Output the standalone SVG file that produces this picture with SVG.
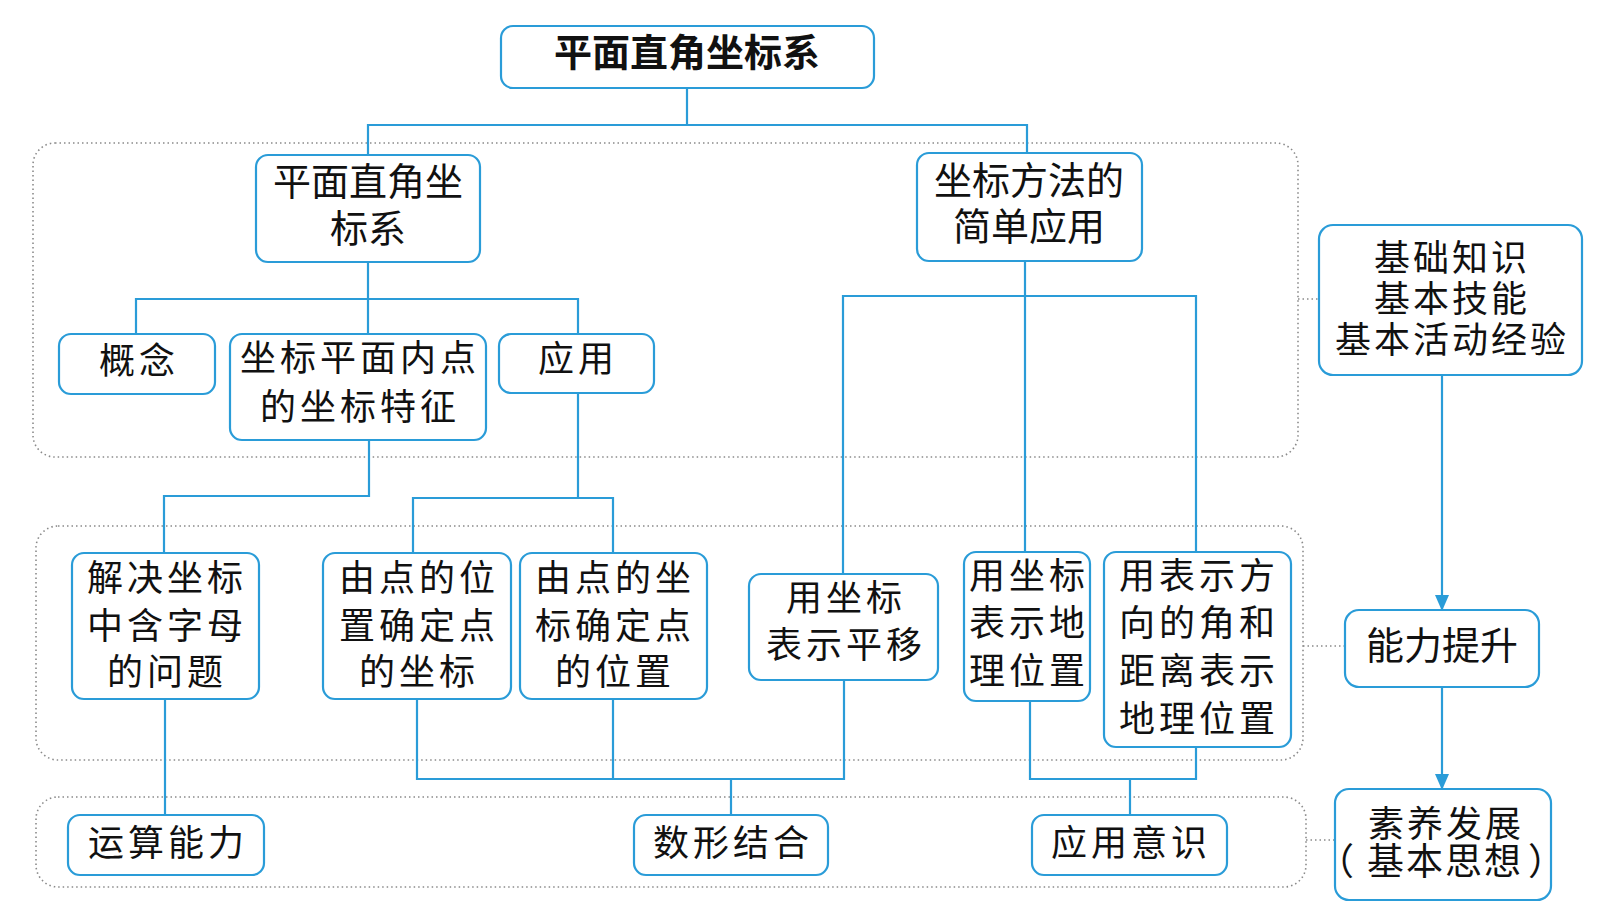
<svg xmlns="http://www.w3.org/2000/svg" width="1603" height="916" viewBox="0 0 1603 916">
<style>
.box{fill:#fff;stroke:#2a9cd8;stroke-width:2.2}
.ln{fill:none;stroke:#2a9cd8;stroke-width:2.2}
.grp{fill:none;stroke:#8a8a8a;stroke-width:1.6;stroke-dasharray:1.5 3}
.dt{fill:none;stroke:#8a8a8a;stroke-width:1.6;stroke-dasharray:1.5 3}
text{font-family:"Liberation Sans","Noto Sans CJK SC","Noto Sans CJK JP",sans-serif;fill:#111;text-anchor:middle;dominant-baseline:central}
.t{font-size:36px;letter-spacing:4px}
.s{font-size:38px}
.r{font-size:36px;letter-spacing:3px}
.h{font-size:38px;font-weight:bold}
</style>
<defs>
<marker id="arr" markerWidth="16" markerHeight="14" refX="15" refY="7" orient="auto" markerUnits="userSpaceOnUse" viewBox="0 0 16 14">
<path d="M0,0 L16,7 L0,14 Z" fill="#2a9cd8"/>
</marker>
</defs>
<rect width="1603" height="916" fill="#fff"/>

<g id="groups">
<rect class="grp" x="33" y="143" width="1265" height="314" rx="22"/>
<rect class="grp" x="36" y="526" width="1267" height="234" rx="22"/>
<rect class="grp" x="36" y="797" width="1270" height="90" rx="22"/>
</g>

<g id="connectors">
<path class="ln" d="M687,88 V125 M368,155 V125 H1027 V153"/>
<path class="ln" d="M368,262 V299 M136,334 V299 H578 V334 M368,299 V334"/>
<path class="ln" d="M1025,261 V552 M843,574 V296 H1196 V552"/>
<path class="ln" d="M369,440 V496 H164 V553"/>
<path class="ln" d="M578,393 V498 M413,553 V498 H613 V553"/>
<path class="ln" d="M165,699 V815"/>
<path class="ln" d="M417,699 V779 H844 V680 M613,699 V779 M731,779 V815"/>
<path class="ln" d="M1030,701 V779 H1196 V747 M1130,779 V815"/>
<path class="ln" d="M1442,375 V610" marker-end="url(#arr)"/>
<path class="ln" d="M1442,687 V789" marker-end="url(#arr)"/>
<path class="dt" d="M1298,299 H1319 M1303,646 H1345 M1306,840 H1335"/>
</g>

<g id="n-title"><rect class="box" x="501" y="26" width="373" height="62" rx="12"/><text class="h" x="687" y="53">平面直角坐标系</text></g>

<g id="n-pmzj"><rect class="box" x="256" y="155" width="224" height="107" rx="12"/>
<text class="s" x="368" y="182">平面直角坐</text><text class="s" x="368" y="229">标系</text></g>

<g id="n-zbff"><rect class="box" x="917" y="153" width="225" height="108" rx="12"/>
<text class="s" x="1029" y="181">坐标方法的</text><text class="s" x="1029" y="227">简单应用</text></g>

<g id="n-gn"><rect class="box" x="59" y="334" width="156" height="60" rx="12"/><text class="t" x="139" y="361">概念</text></g>

<g id="n-tz"><rect class="box" x="230" y="334" width="256" height="106" rx="12"/>
<text class="t" x="360" y="358">坐标平面内点</text><text class="t" x="360" y="407">的坐标特征</text></g>

<g id="n-yy"><rect class="box" x="499" y="334" width="155" height="59" rx="12"/><text class="t" x="578" y="359">应用</text></g>

<g id="n-jj"><rect class="box" x="72" y="553" width="187" height="146" rx="12"/>
<text class="t" x="167" y="578">解决坐标</text><text class="t" x="167" y="626">中含字母</text><text class="t" x="167" y="672">的问题</text></g>

<g id="n-wz"><rect class="box" x="323" y="553" width="188" height="146" rx="12"/>
<text class="t" x="419" y="578">由点的位</text><text class="t" x="419" y="626">置确定点</text><text class="t" x="419" y="672">的坐标</text></g>

<g id="n-zb"><rect class="box" x="520" y="553" width="187" height="146" rx="12"/>
<text class="t" x="615" y="578">由点的坐</text><text class="t" x="615" y="626">标确定点</text><text class="t" x="615" y="672">的位置</text></g>

<g id="n-py"><rect class="box" x="749" y="574" width="189" height="106" rx="12"/>
<text class="t" x="846" y="598">用坐标</text><text class="t" x="846" y="645">表示平移</text></g>

<g id="n-dl"><rect class="box" x="964" y="552" width="126" height="149" rx="12"/>
<text class="t" x="1029" y="576">用坐标</text><text class="t" x="1029" y="623">表示地</text><text class="t" x="1029" y="671">理位置</text></g>

<g id="n-fx"><rect class="box" x="1104" y="552" width="187" height="195" rx="12"/>
<text class="t" x="1199" y="576">用表示方</text><text class="t" x="1199" y="623">向的角和</text><text class="t" x="1199" y="671">距离表示</text><text class="t" x="1199" y="719">地理位置</text></g>

<g id="n-ys"><rect class="box" x="68" y="815" width="196" height="60" rx="12"/><text class="t" x="168" y="843">运算能力</text></g>
<g id="n-sx"><rect class="box" x="634" y="815" width="194" height="60" rx="12"/><text class="t" x="733" y="843">数形结合</text></g>
<g id="n-yyys"><rect class="box" x="1032" y="815" width="195" height="60" rx="12"/><text class="t" x="1131" y="843">应用意识</text></g>

<g id="n-jc"><rect class="box" x="1319" y="225" width="263" height="150" rx="14"/>
<text class="r" x="1452" y="258">基础知识</text><text class="r" x="1452" y="299">基本技能</text><text class="r" x="1452" y="340">基本活动经验</text></g>

<g id="n-nl"><rect class="box" x="1345" y="610" width="194" height="77" rx="14"/><text class="s" x="1442" y="646">能力提升</text></g>

<g id="n-sy"><rect class="box" x="1335" y="789" width="216" height="111" rx="14"/>
<text class="r" x="1446" y="824">素养发展</text><text x="1317" y="862" style="font-size:37px;letter-spacing:2px;text-anchor:start">（<tspan dx="11">基本思想</tspan><tspan dx="5">）</tspan></text></g>
</svg>
